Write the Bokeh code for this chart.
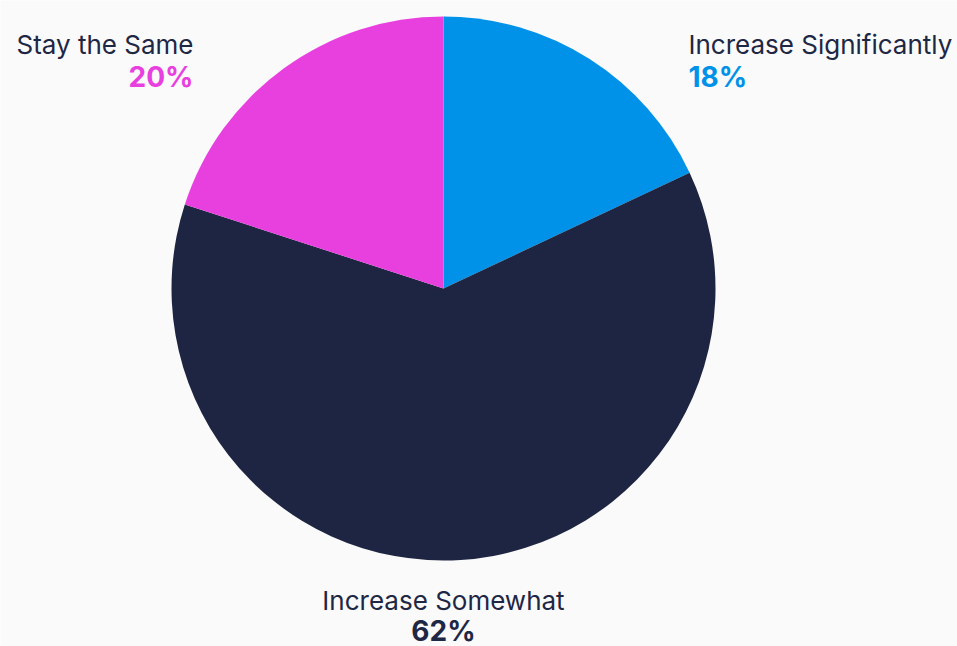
import math
from bokeh.plotting import figure
from bokeh.models import Range1d, ColumnDataSource
from bokeh.core.properties import value
from bokeh.embed import file_html
from bokeh.resources import INLINE

# ---- data ----
categories = ["Increase Significantly", "Increase Somewhat", "Stay the Same"]
values = [18, 62, 20]
pct_labels = ["18%", "62%", "20%"]
colors = ["#0091e9", "#1d2542", "#e840df"]

# ---- layout ----
W, H = 957, 646
cx, cy, R = 443, H - 288, 272
# label anchors: (x, y of name, y of pct, align)
anchors = [(688, H - 44, H - 76, "left"),
           (443, H - 600, H - 630, "center"),
           (193, H - 44, H - 76, "right")]
TEXT = "#1e2744"
BG = "#fafafa"

total = sum(values)
starts, ends = [], []
cum = 0
for v in values:
    starts.append(math.pi / 2 - 2 * math.pi * cum / total)
    cum += v
    ends.append(math.pi / 2 - 2 * math.pi * cum / total)

src = ColumnDataSource(dict(cat=categories, val=values, start=starts, end=ends, color=colors))

p = figure(width=W, height=H, output_backend="svg", toolbar_location=None,
           x_range=Range1d(0, W), y_range=Range1d(0, H), min_border=0)
p.axis.visible = False
p.grid.visible = False
p.outline_line_color = None
p.background_fill_color = BG
p.border_fill_color = BG

p.wedge(x=cx, y=cy, radius=R, start_angle="start", end_angle="end",
        direction="clock", fill_color="color", line_color=None, source=src)

for cat, pct, col, (ax, by1, by2, al) in zip(categories, pct_labels, colors, anchors):
    p.text(x=[ax], y=[by1], text=[cat], text_align=al, text_baseline="alphabetic",
           text_font=value("Inter"), text_font_size="26px", text_color=TEXT)
    pc = TEXT if col == "#1d2542" else col
    p.text(x=[ax], y=[by2], text=[pct], text_align=al, text_baseline="alphabetic",
           text_font=value("Inter"), text_font_size="28px", text_font_style="bold",
           text_color=pc)

open("out.html", "w").write(file_html(p, INLINE))
